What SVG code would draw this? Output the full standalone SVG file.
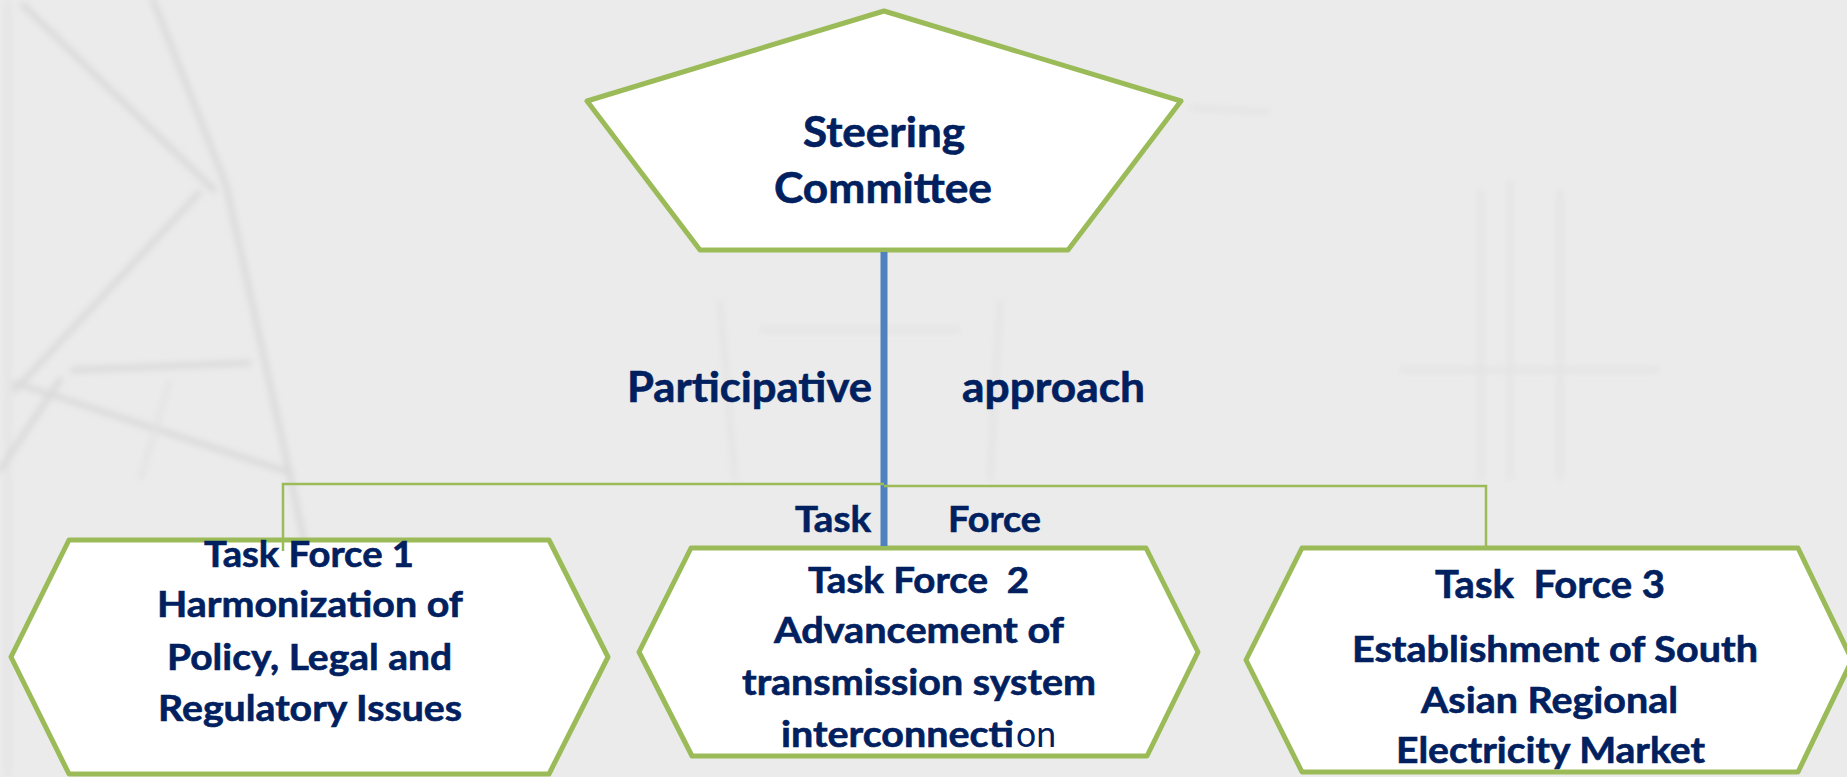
<svg xmlns="http://www.w3.org/2000/svg" width="1847" height="777" viewBox="0 0 1847 777">
  <defs>
    <filter id="soft" x="-10%" y="-10%" width="120%" height="120%">
      <feGaussianBlur stdDeviation="3"/>
    </filter>
    <style>
      .shape { fill: #FFFFFF; stroke: #9BBB59; stroke-width: 5; stroke-linejoin: round; }
      .label { font-family: Lato, "Liberation Sans", sans-serif; font-weight: 700; fill: #002060; stroke: #002060; stroke-width: 0.6; }
      .plain { font-weight: 400; stroke-width: 0; }
      .trunk { stroke: #4F81BD; stroke-width: 7; fill: none; }
      .branch { stroke: #9BBB59; stroke-width: 2.5; fill: none; }
      .lattice { stroke: #D9DAD9; stroke-width: 6; fill: none; stroke-linecap: round; }
      .lattice-thin { stroke: #E2E3E2; stroke-width: 5; fill: none; }
    </style>
  </defs>

  <!-- backdrop with a faint pylon lattice -->
  <rect x="0" y="0" width="1847" height="777" fill="#EBEBEB"/>
  <g id="backdrop" filter="url(#soft)">
    <path class="lattice" d="M153,0 L226,185 L291,480 L330,660"/>
    <path class="lattice" d="M23,5 L214,190"/>
    <path class="lattice" d="M199,193 L15,390"/>
    <path class="lattice" d="M73,370 L249,363"/>
    <path class="lattice" d="M15,383 L291,473"/>
    <path class="lattice-thin" d="M8,0 L8,777"/>
    <path class="lattice" d="M60,380 L0,470"/>
    <path class="lattice-thin" d="M170,380 L140,480"/>
    <path class="lattice-thin" d="M720,300 L735,480 M1000,300 L990,480 M760,330 L960,330"/>
    <path class="lattice-thin" d="M1481,190 L1481,480 M1510,180 L1510,480 M1560,190 L1560,480 M1400,370 L1660,370"/>
    <path class="lattice-thin" d="M1190,108 L1270,112"/>
  </g>

  <!-- steering committee -->
  <g id="steering-committee">
    <polygon class="shape" points="884,11 1181,101 1068,250 700,250 587,101"/>
    <text class="label" font-size="42" x="803" y="147" textLength="162" lengthAdjust="spacingAndGlyphs">Steering</text>
    <text class="label" font-size="42" x="774" y="203" textLength="218" lengthAdjust="spacingAndGlyphs">Committee</text>
  </g>

  <!-- task force 1 -->
  <g id="task-force-1">
    <polygon class="shape" points="69,540 549,540 608,657 549,774 69,774 11,657"/>
    <text class="label" font-size="36" x="204" y="567" textLength="210" lengthAdjust="spacingAndGlyphs">Task Force 1</text>
    <text class="label" font-size="36" x="157" y="617" textLength="306" lengthAdjust="spacingAndGlyphs">Harmonization of</text>
    <text class="label" font-size="36" x="167" y="670" textLength="285" lengthAdjust="spacingAndGlyphs">Policy, Legal and</text>
    <text class="label" font-size="36" x="158" y="721" textLength="304" lengthAdjust="spacingAndGlyphs">Regulatory Issues</text>
  </g>

  <!-- task force 2 -->
  <g id="task-force-2">
    <polygon class="shape" points="691,548 1146,548 1198,652 1147,756 692,756 639,652"/>
    <text class="label" font-size="36" x="808" y="593" textLength="221" lengthAdjust="spacingAndGlyphs" xml:space="preserve">Task Force  2</text>
    <text class="label" font-size="36" x="774" y="643" textLength="290" lengthAdjust="spacingAndGlyphs">Advancement of</text>
    <text class="label" font-size="36" x="742" y="695" textLength="354" lengthAdjust="spacingAndGlyphs">transmission system</text>
    <text class="label" font-size="36" x="781" y="747" textLength="233" lengthAdjust="spacingAndGlyphs">interconnecti</text>
    <text class="label plain" font-size="36" x="1016" y="747" textLength="40" lengthAdjust="spacingAndGlyphs">on</text>
  </g>

  <!-- task force 3 -->
  <g id="task-force-3">
    <polygon class="shape" points="1302,548 1798,548 1852,660 1798,772 1302,772 1246,660"/>
    <text class="label" font-size="39" x="1435" y="598" textLength="230" lengthAdjust="spacingAndGlyphs" xml:space="preserve">Task  Force 3</text>
    <text class="label" font-size="36" x="1352" y="662" textLength="406" lengthAdjust="spacingAndGlyphs">Establishment of South</text>
    <text class="label" font-size="36" x="1421" y="713" textLength="257" lengthAdjust="spacingAndGlyphs">Asian Regional</text>
    <text class="label" font-size="36" x="1396" y="763" textLength="309" lengthAdjust="spacingAndGlyphs">Electricity Market</text>
  </g>

  <!-- links from the committee down to the task forces -->
  <g id="connectors">
    <line class="trunk" x1="884" y1="252" x2="884" y2="546"/>
    <path class="branch" d="M283,551 V484 H884"/>
    <path class="branch" d="M884,486 H1486 V547"/>
    <text class="label" font-size="42" x="627" y="402" textLength="245" lengthAdjust="spacingAndGlyphs">Participative</text>
    <text class="label" font-size="42" x="962" y="402" textLength="183" lengthAdjust="spacingAndGlyphs">approach</text>
    <text class="label" font-size="36" x="795" y="532" textLength="76" lengthAdjust="spacingAndGlyphs">Task</text>
    <text class="label" font-size="36" x="948" y="532" textLength="93" lengthAdjust="spacingAndGlyphs">Force</text>
  </g>
</svg>
